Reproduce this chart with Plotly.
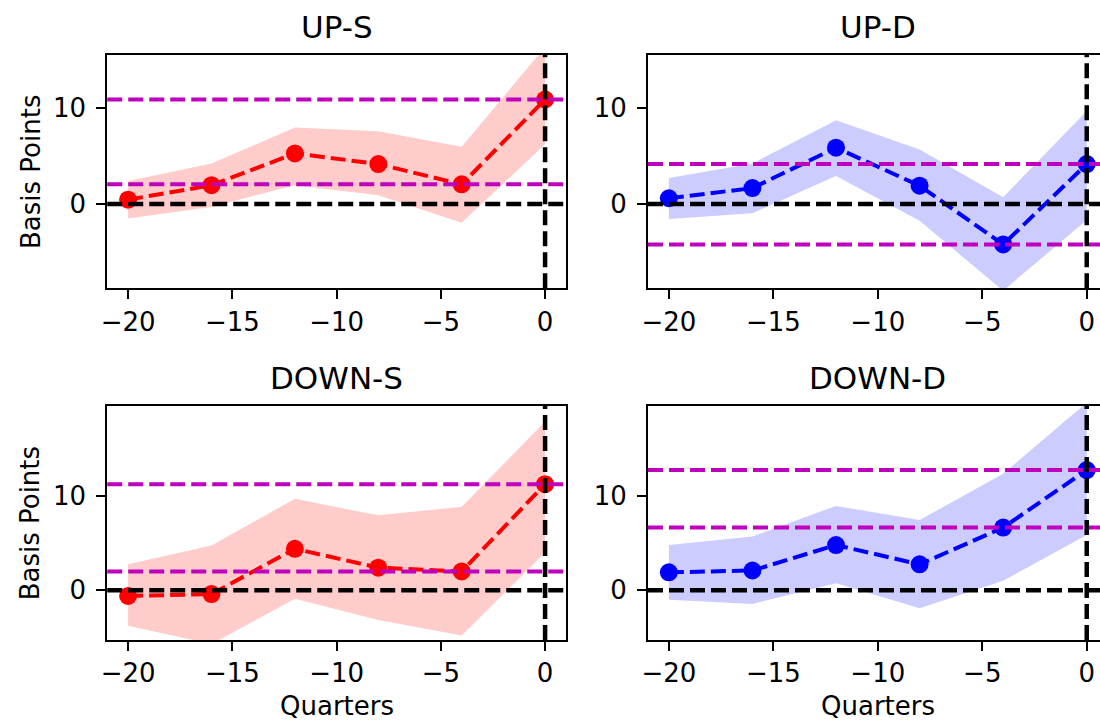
import plotly.graph_objects as go

# Event time in quarters
quarters = [-20, -16, -12, -8, -4, 0]
panel_titles = ["UP-S", "UP-D", "DOWN-S", "DOWN-D"]

# Point estimates and confidence bands (basis points)
up_s_mean = [0.45, 1.95, 5.25, 4.15, 2.04, 10.85]
up_s_upper = [2.4, 4.2, 7.95, 7.55, 5.95, 16.3]
up_s_lower = [-1.5, -0.3, 1.95, 0.9, -1.95, 6.2]

up_d_mean = [0.6, 1.65, 5.85, 1.9, -4.2, 4.15]
up_d_upper = [2.7, 4.2, 8.7, 5.65, 0.7, 9.65]
up_d_lower = [-1.55, -0.95, 2.9, -1.75, -9.0, -1.65]

down_s_mean = [-0.6, -0.4, 4.4, 2.4, 2.0, 11.25]
down_s_upper = [2.75, 4.75, 9.7, 7.95, 8.85, 17.9]
down_s_lower = [-3.75, -5.7, -0.9, -3.15, -4.8, 4.0]

down_d_mean = [1.9, 2.1, 4.8, 2.75, 6.65, 12.75]
down_d_upper = [4.8, 5.7, 8.95, 7.45, 12.35, 19.9]
down_d_lower = [-1.0, -1.45, 0.75, -1.9, 1.0, 5.85]

means = [up_s_mean, up_d_mean, down_s_mean, down_d_mean]
uppers = [up_s_upper, up_d_upper, down_s_upper, down_d_upper]
lowers = [up_s_lower, up_d_lower, down_s_lower, down_d_lower]
line_colors = ["rgb(255,0,0)", "rgb(0,0,255)", "rgb(255,0,0)", "rgb(0,0,255)"]
band_colors = ["rgba(255,0,0,0.2)", "rgba(0,0,255,0.2)", "rgba(255,0,0,0.2)", "rgba(0,0,255,0.2)"]

W, H = 1100, 720
FONT = "DejaVu Sans"
MAGENTA = "rgb(191,0,191)"
DASH = "15px,6px"

# Pixel geometry of the four panels: (left, right, top, bottom)
boxes = [
    (101.8, 563.0, 55.0, 288.3),
    (645.5, 1100.0, 55.0, 288.3),
    (101.8, 563.0, 406.0, 640.0),
    (645.5, 1100.0, 406.0, 640.0),
]
x_ranges = [[-21, 1], [-21, 0.635], [-21, 1], [-21, 0.635]]
y_ranges = [[-8.75, 15.47], [-8.75, 15.47], [-5.27, 19.54], [-5.27, 19.54]]

fig = go.Figure()
shapes = []
annotations = []

for i in range(4):
    n = i + 1
    xa = "x" if n == 1 else f"x{n}"
    ya = "y" if n == 1 else f"y{n}"

    # Confidence band
    fig.add_trace(go.Scatter(
        x=quarters + quarters[::-1],
        y=uppers[i] + lowers[i][::-1],
        fill="toself", fillcolor=band_colors[i],
        line=dict(width=0), mode="lines", hoverinfo="skip",
        xaxis=xa, yaxis=ya, showlegend=False,
    ))
    # Point estimates
    fig.add_trace(go.Scatter(
        x=quarters, y=means[i], mode="lines+markers",
        line=dict(color=line_colors[i], width=4, dash=DASH),
        marker=dict(color=line_colors[i], size=18),
        xaxis=xa, yaxis=ya, showlegend=False,
    ))

    dom_ref = f"{xa} domain"
    ydom_ref = f"{ya} domain"
    # zero line and event line
    shapes.append(dict(type="line", xref=dom_ref, yref=ya, x0=0, x1=1, y0=0, y1=0,
                       line=dict(color="black", width=4.5, dash=DASH), layer="above"))
    shapes.append(dict(type="line", xref=xa, yref=ydom_ref, x0=0, x1=0, y0=0, y1=1,
                       line=dict(color="black", width=4.5, dash=DASH), layer="above"))
    # reference levels at the event quarter and four quarters before
    for lvl in (means[i][quarters.index(0)], means[i][quarters.index(-4)]):
        shapes.append(dict(type="line", xref=dom_ref, yref=ya, x0=0, x1=1, y0=lvl, y1=lvl,
                           line=dict(color=MAGENTA, width=4, dash=DASH), layer="above"))

    l, r, t, b = boxes[i]
    right_col = i % 2 == 1
    axis_common = dict(
        showline=True, linecolor="black", linewidth=2,
        ticks="outside", ticklen=9, tickwidth=2, tickcolor="black",
        tickfont=dict(family=FONT, size=26, color="black"),
        showgrid=False, zeroline=False,
    )
    fig.layout[f"xaxis{'' if n == 1 else n}"] = dict(
        domain=[l / W, r / W], range=x_ranges[i], anchor=ya,
        tickmode="array", tickvals=[-20, -15, -10, -5, 0],
        mirror=True, **axis_common,
    )
    fig.layout[f"yaxis{'' if n == 1 else n}"] = dict(
        domain=[1 - b / H, 1 - t / H], range=y_ranges[i], anchor=xa,
        tickmode="array", tickvals=[0, 10], ticklabelstandoff=5,
        mirror=not right_col, **axis_common,
    )

    cx = ((l + r) / 2) if not right_col else ((l + 1107.5) / 2)
    annotations.append(dict(text=panel_titles[i], x=cx / W, y=1 - (t - 28) / H,
                            xref="paper", yref="paper", showarrow=False,
                            xanchor="center", yanchor="middle",
                            font=dict(family=FONT, size=31, color="black")))
    if i >= 2:
        annotations.append(dict(text="Quarters", x=cx / W, y=1 - 706 / H,
                                xref="paper", yref="paper", showarrow=False,
                                xanchor="center", yanchor="middle",
                                font=dict(family=FONT, size=26, color="black")))
    if not right_col:
        annotations.append(dict(text="Basis Points", x=24.5 / W, y=1 - ((t + b) / 2) / H,
                                xref="paper", yref="paper", showarrow=False, textangle=-90,
                                xanchor="center", yanchor="middle",
                                font=dict(family=FONT, size=26, color="black")))

fig.update_layout(
    width=W, height=H,
    margin=dict(l=0, r=0, t=0, b=0),
    paper_bgcolor="white", plot_bgcolor="white",
    shapes=shapes, annotations=annotations,
    showlegend=False,
)

fig.write_html("out.html")
